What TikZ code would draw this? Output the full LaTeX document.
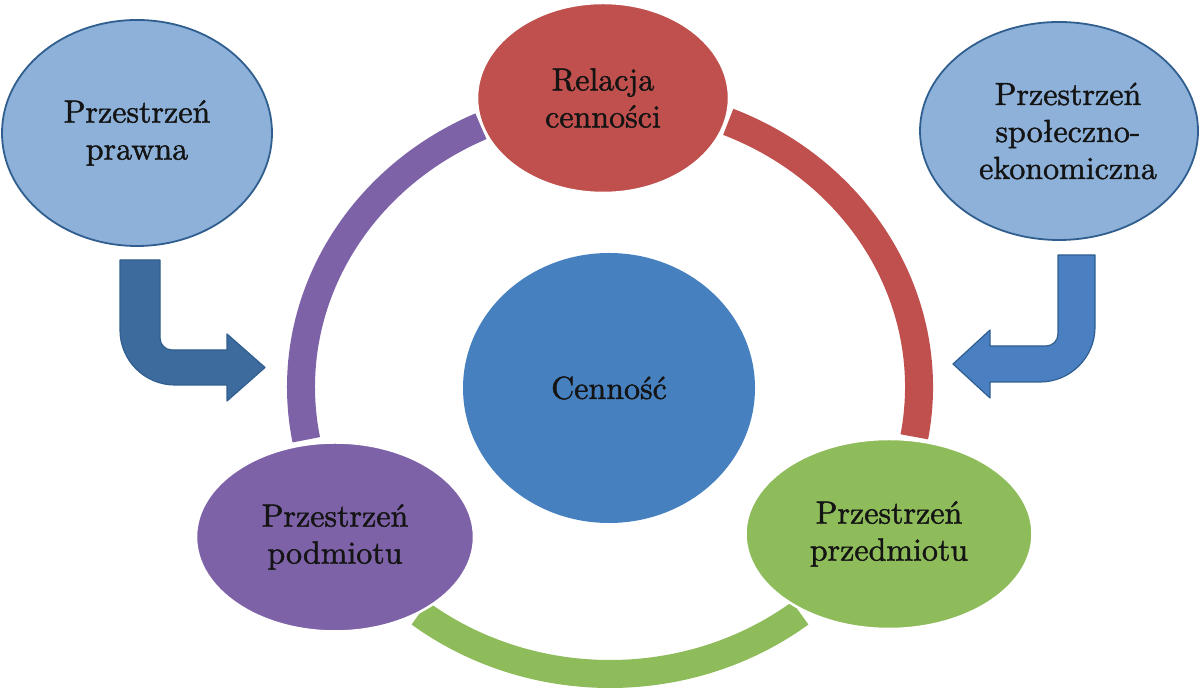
\documentclass[tikz,border=0pt]{standalone}
\usepackage{fontspec}
\newfontfamily\labfont{lmroman10-regular.otf}[FakeBold=1.4]
\usetikzlibrary{shapes.geometric}
\definecolor{lblue}{HTML}{8DB1D9}
\definecolor{dblue}{HTML}{2F5E8F}
\definecolor{cred}{HTML}{C0504D}
\definecolor{cpurple}{HTML}{7D62A8}
\definecolor{cgreen}{HTML}{8FBC5B}
\definecolor{cblue}{HTML}{4680BF}
\definecolor{arrA}{HTML}{3D6B9D}
\definecolor{arrB}{HTML}{4A80C2}
\begin{document}
\begin{tikzpicture}[x=1pt,y=1pt,
 lab/.style={font=\labfont\fontsize{32}{37}\selectfont, align=center, text=black!92, inner sep=-30pt},
 outerell/.style={ellipse, draw=dblue, line width=1.8pt, fill=lblue, lab},
 innerell/.style={ellipse, draw=white, line width=2.5pt, lab},
 ringarc/.style={line width=28pt, line cap=butt},
 bendarrow/.style={draw=dblue, line width=1.2pt, line join=round}]
\useasboundingbox (0,0) rectangle (1204,692);
\coordinate (c) at (610,305);
% ring arcs
\draw[ringarc, cpurple] (c) ++(190.6:309pt and 287pt) arc[start angle=190.6, end angle=114.7, x radius=309pt, y radius=287pt];
\draw[ringarc, cred] (c) ++(67.5:309pt and 287pt) arc[start angle=67.5, end angle=-10, x radius=309pt, y radius=287pt];
\draw[ringarc, cgreen] (c) ++(232:309pt and 287pt) arc[start angle=232, end angle=308, x radius=309pt, y radius=287pt];
% nodes
\node[outerell, minimum width=270pt, minimum height=226pt] (prawna) at (137,559) {Przestrzeń\\prawna};
\node[outerell, minimum width=278pt, minimum height=218pt] (spol) at (1059,561) {\hspace*{18pt}Przestrzeń\\\hspace*{18pt}społeczno-\\\hspace*{18pt}ekonomiczna};
\node[innerell, fill=cred, minimum width=252pt, minimum height=190pt] (rel) at (603,594) {Relacja\\cenności};
\node[ellipse, fill=cblue, lab, minimum width=292pt, minimum height=270pt] (cen) at (609,304) {Cenność};
\node[innerell, fill=cpurple, minimum width=278pt, minimum height=189pt] (pod) at (335,155) {Przestrzeń\\podmiotu};
\node[innerell, fill=cgreen, minimum width=287pt, minimum height=190pt] (prz) at (889,158) {Przestrzeń\\przedmiotu};
% bent arrows
\draw[bendarrow, fill=arrA] (120,432) -- (160,432) -- (160,354) arc[start angle=180, end angle=270, radius=12] -- (227,342) -- (227,358) -- (265,324.5) -- (227,291) -- (227,307) -- (175,307) arc[start angle=270, end angle=180, radius=55] -- cycle;
\draw[bendarrow, fill=arrB] (1095,437) -- (1058,437) -- (1058,358) arc[start angle=0, end angle=-90, radius=12] -- (990,346) -- (990,362) -- (953,328) -- (990,294) -- (990,310) -- (1040,310) arc[start angle=270, end angle=360, radius=55] -- cycle;
\end{tikzpicture}
\end{document}
